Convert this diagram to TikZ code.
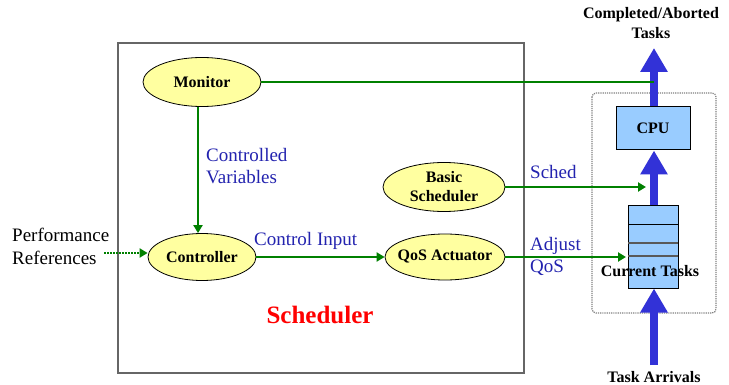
\documentclass[tikz,border=0pt]{standalone}
\usepackage{fontspec}
\setmainfont{Liberation Serif}
\usetikzlibrary{arrows.meta,shapes.geometric}
\definecolor{flowgreen}{RGB}{0,128,0}
\definecolor{labelblue}{RGB}{35,35,175}
\definecolor{taskblue}{RGB}{50,50,215}
\definecolor{nodeyellow}{RGB}{255,255,160}
\definecolor{boxblue}{RGB}{153,204,255}
\tikzset{
  blob/.style={ellipse,draw=black,fill=nodeyellow,line width=0.8pt,
    font=\bfseries\fontsize{16}{19}\selectfont,align=center,
    inner xsep=-20pt,inner ysep=-12pt},
  flow/.style={draw=flowgreen,line width=2pt,-{Triangle[length=8pt,width=9pt]}},
  plainflow/.style={draw=flowgreen,line width=2pt},
  tasks/.style={draw=taskblue,line width=8pt,-{Triangle[length=24pt,width=26pt]}},
  lbl/.style={text=labelblue,font=\fontsize{19}{22}\selectfont,align=left,inner sep=0pt},
  dark/.style={font=\bfseries\fontsize{16}{20}\selectfont,align=center,inner sep=0pt},
  plain/.style={font=\fontsize{19}{23}\selectfont,align=left,inner sep=0pt},
}
\begin{document}
\begin{tikzpicture}[x=1pt,y=-1pt]
\useasboundingbox (0,0) rectangle (729,385);
\fill[white] (0,0) rectangle (729,385);

% scheduler frame
\draw[gray!80!black,line width=2.5pt] (118,43) rectangle (524,373);
\node[text=red,font=\bfseries\fontsize{25}{28}\selectfont] (schedtitle) at (320,315) {Scheduler};

% processing side: dotted frame, CPU and task queue
\draw[gray,densely dotted,line width=1.2pt,rounded corners=4pt] (592,93) rectangle (716,313);
\node[draw=black,fill=boxblue,line width=1pt,minimum width=74pt,minimum height=43pt,
  font=\bfseries\fontsize{16}{19}\selectfont] (cpu) at (653,128.5) {CPU};
\node[draw=black,fill=boxblue,line width=1pt,minimum width=50pt,minimum height=82pt,inner sep=0pt]
  (queue) at (653,247) {};
\draw[black,line width=1pt] (628,225) -- (678,225);
\draw[gray!70!black,line width=1.2pt] (628,243) -- (678,243);
\draw[gray!70!black,line width=1.2pt] (628,256) -- (678,256);
\node[dark] (curtasks) at (650,271) {Current Tasks};

% task flow
\coordinate (arrivals) at (654,365);
\coordinate (done) at (654,48);
\node[dark] (arrtext) at (654,377) {Task Arrivals};
\node[dark,align=center] (donetext) at (651,23) {Completed/Aborted\\Tasks};
\draw[tasks] (arrivals) -- (queue.south -| arrivals);
\draw[tasks] (queue.north -| arrivals) -- (cpu.south -| arrivals);
\draw[tasks] (cpu.north -| arrivals) -- (done);

% scheduler components
\node[blob,minimum width=118pt,minimum height=49pt] (monitor) at (202,82) {Monitor};
\node[blob,minimum width=108pt,minimum height=47pt] (controller) at (202,257) {Controller};
\node[blob,minimum width=122pt,minimum height=49pt] (basic) at (444,187) {Basic\\Scheduler};
\node[blob,minimum width=120pt,minimum height=46pt] (qos) at (445,257) {QoS Actuator};

% control loop connectors
\coordinate (monjoin) at (654,82);
\draw[plainflow] (monitor.east) -- (monjoin);
\draw[flow] (monitor.south -| 198,0) -- (controller.north -| 198,0);
\draw[flow] (controller.east) -- (qos.west);
\coordinate (schedtip) at (646,187);
\draw[flow] (basic.east) -- (schedtip);
\coordinate (adjtip) at (626,257);
\draw[flow] (qos.east) -- (adjtip);

% performance references input
\coordinate (refstart) at (104,253);
\draw[flowgreen,line width=2pt,densely dotted,-{Triangle[length=8pt,width=9pt]}] (refstart) -- (controller.west |- refstart);

% labels
\node[plain,anchor=west] (perfref) at (12,246) {Performance\\References};
\node[lbl,anchor=west] (cvar) at (206,166) {Controlled\\Variables};
\node[lbl,anchor=west] (cinput) at (254,241) {Control Input};
\node[lbl,anchor=west] (schedlbl) at (530,172) {Sched};
\node[lbl,anchor=west] (adjlbl) at (530,256) {Adjust\\QoS};
\end{tikzpicture}
\end{document}
